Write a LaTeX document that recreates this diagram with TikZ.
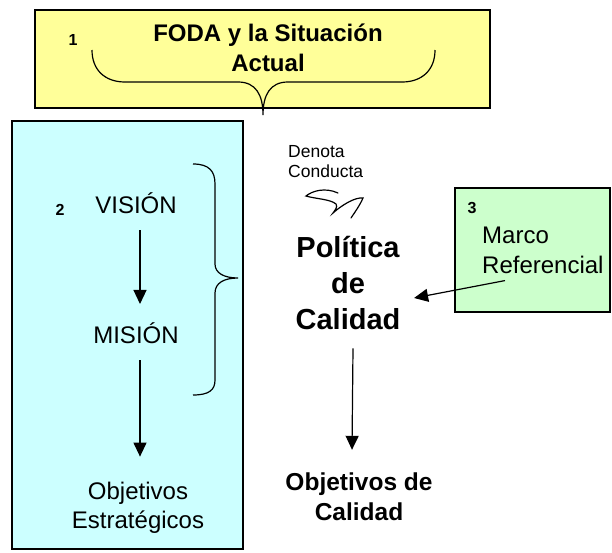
\documentclass[tikz,border=0pt]{standalone}
\usepackage{fontspec}
\setmainfont{Liberation Sans}
\usetikzlibrary{arrows.meta,positioning}
\definecolor{fodafill}{HTML}{FFFF99}
\definecolor{planfill}{HTML}{CCFFFF}
\definecolor{marcofill}{HTML}{CCFFCC}

\begin{document}
\begin{tikzpicture}[
    x = 1pt,
    y = -1pt,
    panel/.style = {
        rectangle,
        draw = black,
        line width = 1.2pt,
        inner sep = 0pt
    },
    plain/.style = {
        font = \fontsize{24}{29}\selectfont,
        align = center,
        inner sep = 0pt
    },
    strong/.style = {
        font = \bfseries\fontsize{24}{30}\selectfont,
        align = center,
        inner sep = 0pt
    },
    num/.style = {
        font = \bfseries\fontsize{16}{18}\selectfont,
        anchor = base,
        inner sep = 0pt
    },
    note/.style = {
        font = \fontsize{17.5}{20}\selectfont,
        align = left,
        anchor = west,
        inner sep = 0pt
    },
    arrow/.style = {
        -{Triangle[length = 14pt, width = 13pt]},
        line width = 1.2pt
    },
    curly/.style = {
        line width = 1.2pt
    }
]

    \useasboundingbox (0,0) rectangle (612,552);

    % Coloured panels
    \node [panel, fill = fodafill, minimum width = 455pt, minimum height = 98pt] (fodabox) at (262.5,59) {};
    \node [panel, fill = planfill, minimum width = 231pt, minimum height = 428pt] (planbox) at (127.5,335) {};
    \node [panel, fill = marcofill, minimum width = 155pt, minimum height = 124pt] (marcobox) at (532.5,250) {};

    % Panel 1
    \node [num] (n1) at (73,45) {1};
    \node [strong] (foda) at (268,47.5) {FODA y la Situación\\Actual};
    \draw [curly] (92,50) .. controls (92,70) and (105,82) .. (125,82) -- (238,82)
        .. controls (256,82) and (263,95) .. (263,115)
        .. controls (263,95) and (270,82) .. (288,82) -- (402,82)
        .. controls (422,82) and (435,70) .. (435,50);

    % Panel 2
    \node [num] (n2) at (60,215) {2};
    \node [plain, anchor = base] (vision) at (136,213) {VISIÓN};
    \node [plain, anchor = base] (mision) at (136,343) {MISIÓN};
    \node [plain] (estrategicos) at (138,508) {Objetivos\\Estratégicos};
    \draw [curly] (193,164) .. controls (209,164) and (215,171) .. (215,184) -- (215,264)
        .. controls (215,273) and (224,278) .. (238,278)
        .. controls (224,278) and (215,283) .. (215,293) -- (215,380)
        .. controls (215,390) and (209,395) .. (193,395);

    % Panel 3
    \node [num] (n3) at (472,213) {3};
    \node [plain, align = left, anchor = west, font = \fontsize{24}{30}\selectfont] (marco) at (482,250) {Marco\\Referencial};

    % Quality policy column
    \node [note] (denota) at (288,161.6) {Denota\\Conducta};
    \draw [line width = 1.2pt, line cap = round]
        (338,193) .. controls (325,187) and (312,191) .. (306,196)
        .. controls (316,199) and (330,199) .. (336,204)
        .. controls (338,207) and (335,210) .. (333,213)
        .. controls (342,205) and (355,197) .. (363,198)
        .. controls (360,205) and (355,212) .. (351,218);
    \node [strong, font = \bfseries\fontsize{29}{36}\selectfont] (politica) at (348,283.4) {Política\\de\\Calidad};
    \node [strong, font = \bfseries\fontsize{24.5}{30}\selectfont] (calidad) at (359,497) {Objetivos de\\Calidad};

    % Connections
    \draw [arrow] ([shift = {(4,17)}]vision.south) -- ([shift = {(4,-18)}]mision.north);
    \draw [arrow] ([shift = {(4,17)}]mision.south) -- ([shift = {(2,-25.5)}]estrategicos.north);
    \draw [arrow] ([shift = {(5,18)}]politica.south) -- ([shift = {(-7,-23)}]calidad.north);
    \draw [arrow] ([shift = {(23,7)}]marco.south west) -- ([shift = {(13.5,14.6)}]politica.east);

\end{tikzpicture}
\end{document}
